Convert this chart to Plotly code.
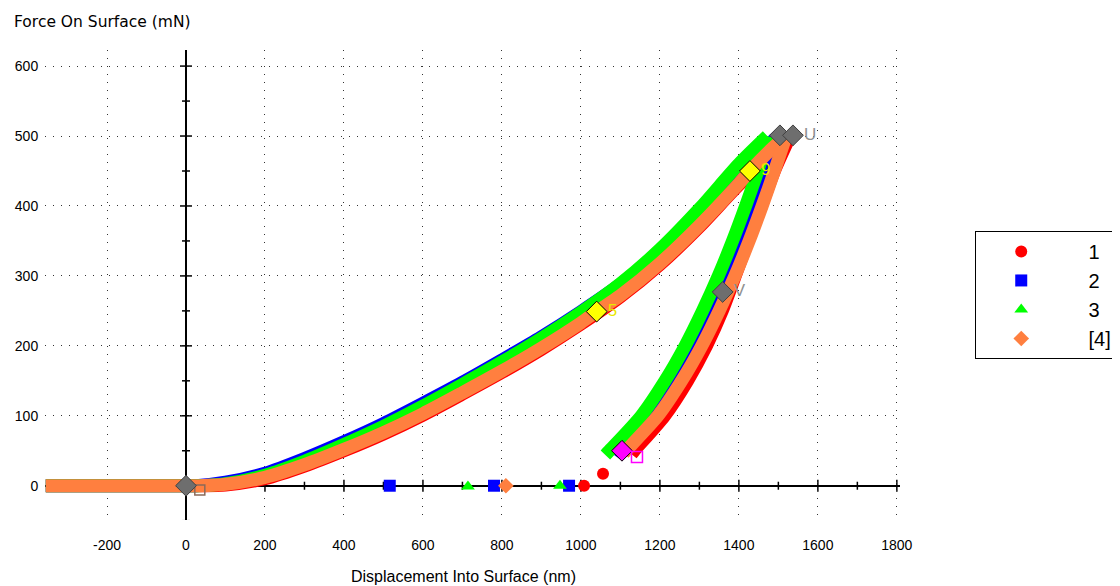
import plotly.graph_objects as go

# ---------------- data ----------------
# approach segment (all series lie on the zero-force line before contact)
approach_disp = [-355, 0]
approach_force = [0, 0]

# series 1 (red)
s1_load_disp = [0, 40, 100, 200, 300, 400, 500, 600, 700, 800, 900, 1000, 1100, 1200, 1300, 1400, 1530]
s1_load_force = [0, 0, 1, 10, 28, 50, 74, 101, 131, 162, 195, 231, 270, 316, 370, 430, 500]
s1_unload_disp = [1530, 1490, 1457, 1423, 1391, 1358, 1318, 1270, 1212, 1135, 1128]
s1_unload_force = [500, 450, 400, 350, 300, 250, 200, 150, 100, 50, 45]
# series 2 (blue)
s2_load_disp = [0, 25, 100, 200, 300, 400, 500, 600, 700, 800, 900, 1000, 1100, 1200, 1300, 1400, 1500]
s2_load_force = [0, 0, 5, 18, 39, 63, 89, 118, 148, 180, 213, 249, 288, 335, 390, 450, 500]
s2_unload_disp = [1500, 1468, 1437, 1404, 1368, 1328, 1284, 1233, 1173, 1092, 1084]
s2_unload_force = [500, 450, 400, 350, 300, 250, 200, 150, 100, 50, 44]
# series 3 (green)
s3_load_disp = [0, 30, 100, 200, 300, 400, 500, 600, 700, 800, 900, 1000, 1100, 1200, 1300, 1400, 1472]
s3_load_force = [0, 0, 3, 15, 35, 59, 85, 114, 145, 177, 211, 248, 289, 338, 396, 460, 500]
s3_unload_disp = [1472, 1448, 1417, 1384, 1348, 1308, 1264, 1213, 1153, 1072, 1062]
s3_unload_force = [500, 450, 400, 350, 300, 250, 200, 150, 100, 50, 44]
# series 4 (orange)
s4_load_disp = [0, 35, 100, 200, 300, 400, 500, 600, 700, 800, 900, 1000, 1040, 1100, 1200, 1300, 1400, 1428, 1480, 1520]
s4_load_force = [0, 0, 2, 12, 30, 52, 76, 103, 133, 164, 197, 233, 249, 272, 318, 372, 432, 450, 480, 500]
s4_unload_disp = [1520, 1490, 1459, 1426, 1390, 1350, 1306, 1255, 1195, 1114, 1108]
s4_unload_force = [500, 450, 400, 350, 300, 250, 200, 150, 100, 50, 46]

# series symbols (points on the chart)
s1_mark_x = [1008, 1056]
s1_mark_y = [0, 17]
s2_mark_x = [516, 780, 970]
s2_mark_y = [0, 0, 0]
s3_mark_x = [714, 947]
s3_mark_y = [-1, 0]
s4_mark_x = [810]
s4_mark_y = [0]

# labelled points
gray_x = [0, 1504, 1537, 1359]
gray_y = [0, 501, 501, 277]
gray_text = ["", "", "U", "V"]
yellow_x = [1040, 1428]
yellow_y = [249, 450]
yellow_text = ["5", "9"]
magenta_d_x = [1104]
magenta_d_y = [50]
magenta_s_x = [1142]
magenta_s_y = [41]
origin_sq_x = [35]
origin_sq_y = [-6]

series_names = ["1", "2", "3", "[4]"]
colors = ["#ff0000", "#0000ff", "#00ff00", "#ff7f3f"]

x_ticks = [-200, 0, 200, 400, 600, 800, 1000, 1200, 1400, 1600, 1800]
y_ticks = [0, 100, 200, 300, 400, 500, 600]

FONT = "Liberation Sans, Arial, sans-serif"
WIDE = "DejaVu Sans, Verdana, sans-serif"
BAND = 13

fig = go.Figure()

series = [
    (s1_load_disp, s1_load_force, s1_unload_disp, s1_unload_force),
    (s2_load_disp, s2_load_force, s2_unload_disp, s2_unload_force),
    (s3_load_disp, s3_load_force, s3_unload_disp, s3_unload_force),
    (s4_load_disp, s4_load_force, s4_unload_disp, s4_unload_force),
]
for (ld, lf, ud, uf), c in zip(series, colors):
    fig.add_trace(go.Scatter(x=approach_disp, y=approach_force, mode="lines",
                             line=dict(color=c, width=BAND), showlegend=False, hoverinfo="skip"))
    fig.add_trace(go.Scatter(x=ld, y=lf, mode="lines",
                             line=dict(color=c, width=BAND, shape="spline", smoothing=0.8),
                             showlegend=False, hoverinfo="skip"))
    fig.add_trace(go.Scatter(x=ud, y=uf, mode="lines",
                             line=dict(color=c, width=BAND, shape="spline", smoothing=0.8),
                             showlegend=False, hoverinfo="skip"))

pad = "\u00a0" * 4
marks = [(s1_mark_x, s1_mark_y, "circle"), (s2_mark_x, s2_mark_y, "square"),
         (s3_mark_x, s3_mark_y, "triangle-up"), (s4_mark_x, s4_mark_y, "diamond")]
for (mx, my, sym), c, n in zip(marks, colors, series_names):
    fig.add_trace(go.Scatter(x=mx, y=my, mode="markers", name=pad + n,
                             marker=dict(symbol=sym, color=c, size=12, line=dict(width=0))))

fig.add_trace(go.Scatter(x=origin_sq_x, y=origin_sq_y, mode="markers", showlegend=False,
                         marker=dict(symbol="square-open", color="#8a6a5a", size=10, line=dict(width=1.5))))
fig.add_trace(go.Scatter(x=gray_x, y=gray_y, mode="markers+text", text=gray_text, showlegend=False,
                         textposition="middle right", textfont=dict(color="#909090", size=17, family=FONT),
                         marker=dict(symbol="diamond", color="#6e6e6e", size=16,
                                     line=dict(color="#404040", width=1))))
fig.add_trace(go.Scatter(x=yellow_x, y=yellow_y, mode="markers+text", text=yellow_text, showlegend=False,
                         textposition="middle right", textfont=dict(color="#e8e800", size=17, family=FONT),
                         marker=dict(symbol="diamond", color="#ffff00", size=16,
                                     line=dict(color="#000000", width=1))))
fig.add_trace(go.Scatter(x=magenta_d_x, y=magenta_d_y, mode="markers", showlegend=False,
                         marker=dict(symbol="diamond", color="#ff00ff", size=16,
                                     line=dict(color="#000000", width=1))))
fig.add_trace(go.Scatter(x=magenta_s_x, y=magenta_s_y, mode="markers", showlegend=False,
                         marker=dict(symbol="square-open", color="#ff00ff", size=11, line=dict(width=1.5))))

# tick marks crossing the axis lines at zero
shapes = []
for v in range(-300, 1900, 100):
    L = 6 if v % 200 == 0 else 4
    shapes.append(dict(type="line", xref="x", yref="y", ysizemode="pixel", yanchor=0,
                       x0=v, x1=v, y0=-L, y1=L, line=dict(color="black", width=1.5), layer="below"))
for v in range(-50, 650, 50):
    L = 6 if v % 100 == 0 else 4
    shapes.append(dict(type="line", xref="x", yref="y", xsizemode="pixel", xanchor=0,
                       y0=v, y1=v, x0=-L, x1=L, line=dict(color="black", width=1.5), layer="below"))

fig.update_layout(
    width=1120, height=586,
    margin=dict(l=37, r=228, t=42, b=74, autoexpand=False),
    paper_bgcolor="white", plot_bgcolor="white",
    font=dict(family=FONT, size=13, color="black"),
    shapes=shapes,
    showlegend=True,
    legend=dict(x=1.088, y=0.615, xanchor="left", yanchor="top",
                bordercolor="black", borderwidth=1, bgcolor="white",
                font=dict(size=20, family=FONT, color="black"),
                itemwidth=80, tracegroupgap=0),
    annotations=[
        dict(text="Force On Surface (mN)", xref="paper", yref="paper", x=-0.0386, y=1.0596,
             xanchor="left", yanchor="middle", showarrow=False, font=dict(size=15.5, family=WIDE)),
        dict(text="Displacement Into Surface (nm)", xref="paper", yref="paper", x=0.49, y=-0.121,
             xanchor="center", yanchor="middle", showarrow=False, font=dict(size=16, family=FONT)),
    ],
)
fig.update_xaxes(range=[-357, 1808], tickvals=x_ticks, ticktext=[str(v) for v in x_ticks],
                 showgrid=True, gridcolor="#333333", griddash="1px,7px", gridwidth=1,
                 zeroline=True, zerolinecolor="black", zerolinewidth=1.5,
                 ticks="outside", ticklen=12, tickcolor="rgba(0,0,0,0)", showline=False,
                 tickfont=dict(size=14, family=FONT))
fig.update_yaxes(range=[-49, 623], tickvals=y_ticks, ticktext=[str(v) for v in y_ticks],
                 showgrid=True, gridcolor="#333333", griddash="1px,7px", gridwidth=1,
                 zeroline=True, zerolinecolor="black", zerolinewidth=1.5,
                 ticks="outside", ticklen=3, tickcolor="rgba(0,0,0,0)", showline=False,
                 tickfont=dict(size=14, family=FONT))

fig.write_html("out.html")
